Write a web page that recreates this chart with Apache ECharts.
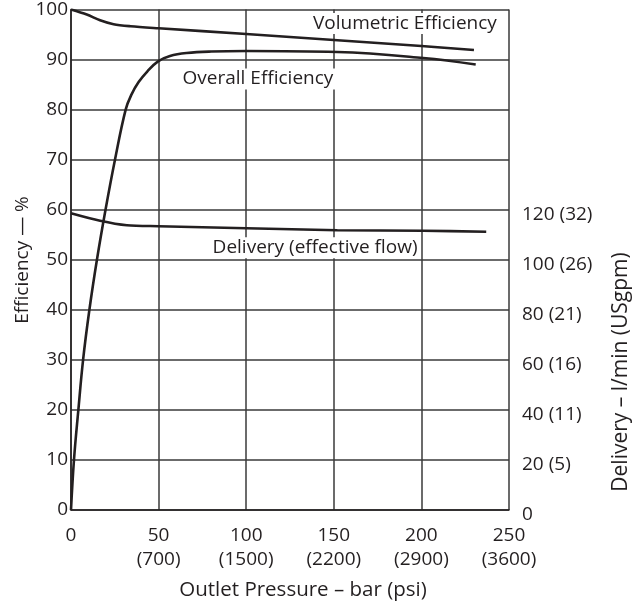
<!DOCTYPE html>
<html>
<head>
<meta charset="utf-8">
<script src="https://cdn.jsdelivr.net/npm/echarts@6/dist/echarts.min.js"></script>
<style>
  html, body { margin: 0; padding: 0; background: #fff; }
  #chart { width: 642px; height: 609px; }
</style>
</head>
<body>
<div id="chart"></div>
<script>
// Outlet pressure (bar) vs efficiency (%) and delivery (scaled on efficiency axis: 10 % = 20 l/min)
const volPressure = [0, 9, 16.6, 24.3, 34, 50, 100, 150, 200, 230];
const volEfficiency = [100, 99, 97.85, 97.05, 96.65, 96.25, 95.1, 93.9, 92.7, 91.9];

const overallPressure = [0, 1.7, 4.2, 6.9, 10.5, 14.8, 19.7, 25.1, 31.2, 34.5, 38.6, 43.5, 49.5, 56.5, 66, 80, 100, 152, 201, 231];
const overallEfficiency = [0, 10, 20, 30, 40, 50, 60, 70, 80, 83, 85.5, 87.6, 89.6, 90.7, 91.3, 91.6, 91.7, 91.5, 90.3, 89];

const deliveryPressure = [0, 16.6, 31.9, 50, 100, 152, 201, 237];
const deliveryScaled = [59.3, 57.8, 56.9, 56.7, 56.3, 55.9, 55.8, 55.6];

// Tick labels
const pressureTicks = [0, 50, 100, 150, 200, 250];
const psiTicks = ['', '(700)', '(1500)', '(2200)', '(2900)', '(3600)'];
const deliveryTicks = [0, 20, 40, 60, 80, 100, 120];
const gpmTicks = ['', '(5)', '(11)', '(16)', '(21)', '(26)', '(32)'];

const FONT = '"Open Sans", "Noto Sans", sans-serif';
const INK = '#231f20';
const GRIDC = '#3a3a3a';

const zip = (xs, ys) => xs.map((x, i) => [x, ys[i]]);

function curveLabel(text, coord) {
  return {
    symbol: 'circle',
    symbolSize: 0,
    silent: true,
    data: [{
      coord: coord,
      label: {
        show: true,
        position: 'inside',
        formatter: text,
        color: INK,
        fontFamily: FONT,
        fontSize: 19,
        backgroundColor: '#fff',
        padding: [1, 2]
      }
    }]
  };
}

const chart = echarts.init(document.getElementById('chart'), null, { renderer: 'canvas' });

chart.setOption({
  animation: false,
  backgroundColor: '#fff',
  textStyle: { fontFamily: FONT, color: INK },
  grid: { left: 71, right: 133, top: 8, bottom: 99, containLabel: false },
  xAxis: {
    type: 'value',
    min: 0, max: 250, interval: 50,
    axisLine: { show: true, lineStyle: { color: INK, width: 1.5 } },
    axisTick: { show: false },
    splitLine: { show: true, lineStyle: { color: GRIDC, width: 1.5 } },
    axisLabel: {
      margin: 14,
      fontSize: 19,
      lineHeight: 24,
      color: INK,
      fontFamily: FONT,
      formatter: v => {
        const i = pressureTicks.indexOf(v);
        return psiTicks[i] ? v + '\n' + psiTicks[i] : String(v);
      }
    }
  },
  yAxis: [
    {
      type: 'value',
      min: 0, max: 100, interval: 10,
      axisLine: { show: true, lineStyle: { color: INK, width: 1.5 } },
      axisTick: { show: false },
      splitLine: { show: true, lineStyle: { color: GRIDC, width: 1.5 } },
      axisLabel: { margin: 3, fontSize: 19, color: INK, fontFamily: FONT }
    },
    {
      type: 'value',
      position: 'right',
      min: 0, max: 200, interval: 20,
      axisLine: { show: false },
      axisTick: { show: false },
      splitLine: { show: false },
      axisLabel: {
        margin: 13,
        color: INK,
        fontFamily: FONT,
        formatter: v => {
          const i = deliveryTicks.indexOf(v);
          if (i < 0) return '';
          return '{t|' + (gpmTicks[i] ? v + ' ' + gpmTicks[i] : String(v)) + '}';
        },
        rich: {
          t: { fontSize: 19, fontFamily: FONT, color: INK, padding: [9, 0, 0, 0] }
        }
      }
    }
  ],
  graphic: [
    {
      type: 'text',
      x: 23, y: 260,
      rotation: Math.PI / 2,
      style: {
        text: 'Efficiency — %',
        font: '19px ' + FONT,
        fill: INK,
        align: 'center',
        verticalAlign: 'middle'
      }
    },
    {
      type: 'text',
      x: 621, y: 372,
      rotation: Math.PI / 2,
      style: {
        text: 'Delivery – l/min (USgpm)',
        font: '21px ' + FONT,
        fill: INK,
        align: 'center',
        verticalAlign: 'middle'
      }
    },
    {
      type: 'text',
      x: 303, y: 590,
      style: {
        text: 'Outlet Pressure – bar (psi)',
        font: '20.5px ' + FONT,
        fill: INK,
        align: 'center',
        verticalAlign: 'middle'
      }
    }
  ],
  series: [
    {
      name: 'Volumetric Efficiency',
      type: 'line',
      data: zip(volPressure, volEfficiency),
      smooth: 0.3,
      showSymbol: false,
      lineStyle: { color: INK, width: 2.6 },
      z: 3,
      markPoint: curveLabel('Volumetric Efficiency', [190.6, 97.2])
    },
    {
      name: 'Overall Efficiency',
      type: 'line',
      data: zip(overallPressure, overallEfficiency),
      smooth: 0.4,
      showSymbol: false,
      lineStyle: { color: INK, width: 2.6 },
      z: 3,
      markPoint: curveLabel('Overall Efficiency', [106.7, 86.1])
    },
    {
      name: 'Delivery (effective flow)',
      type: 'line',
      data: zip(deliveryPressure, deliveryScaled),
      smooth: 0.3,
      showSymbol: false,
      lineStyle: { color: INK, width: 2.6 },
      z: 3,
      markPoint: curveLabel('Delivery (effective flow)', [139.3, 52.4])
    }
  ]
});
</script>
</body>
</html>
